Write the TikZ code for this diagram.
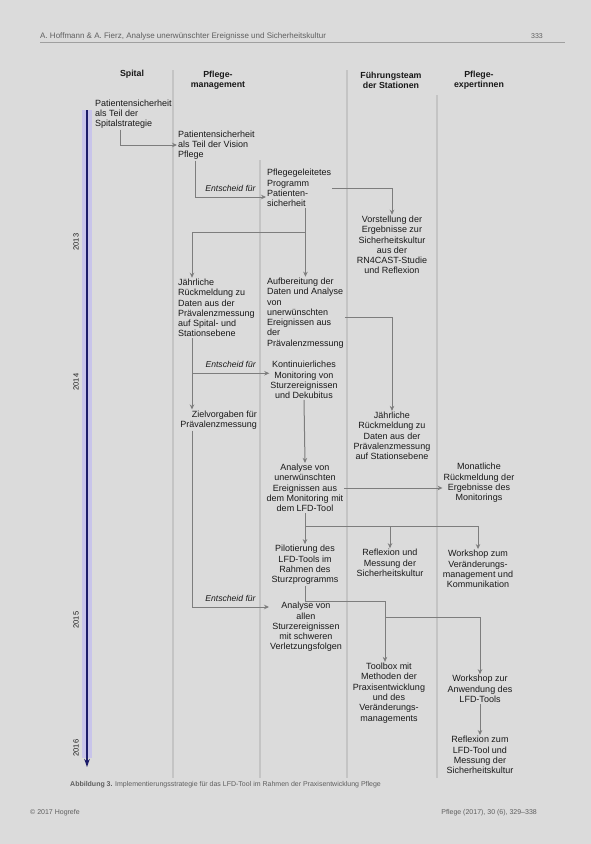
\documentclass[tikz,border=0pt]{standalone}
\usepackage{fontspec}
\setmainfont{Liberation Sans}
\usetikzlibrary{arrows.meta}

\begin{document}
\begin{tikzpicture}[x=1pt, y=-1pt,
    txt/.style={inner sep=1pt, font=\fontsize{9}{10.3}\selectfont, text=myInk},
    lbox/.style={txt, align=left, anchor=west},
    cbox/.style={txt, align=center},
    rbox/.style={txt, align=right, anchor=east},
    colhead/.style={txt, align=center, font=\fontsize{8.8}{10.2}\selectfont\bfseries},
    entscheid/.style={inner sep=1pt, font=\fontsize{8.6}{10}\selectfont\itshape, text=myInk},
    conn/.style={draw=myConn, line width=1pt, -{Stealth[length=5pt, width=4.5pt]}},
    colline/.style={draw=myColline, line width=1.3pt},
    yearlab/.style={inner sep=1pt, rotate=90, font=\fontsize{7.5}{9}\selectfont, text=myInk},
    pagetxt/.style={inner sep=0pt, font=\fontsize{7}{8}\selectfont, text=myPage}
]
    \definecolor{myPaper}{RGB}{219,219,219}
    \definecolor{myInk}{RGB}{25,25,25}
    \definecolor{myConn}{RGB}{125,125,125}
    \definecolor{myColline}{RGB}{196,196,196}
    \definecolor{myBand}{RGB}{200,196,234}
    \definecolor{myNavy}{RGB}{28,28,105}
    \definecolor{myPage}{RGB}{95,95,95}

    \fill[myPaper] (0,0) rectangle (591,844);
    \useasboundingbox (0,0) rectangle (591,844);

    % Kopf- und Fusszeile der Seite
    \draw[myPage!60, line width=0.5pt] (40,42) -- (565,42);
    \node[pagetxt, anchor=west, font=\fontsize{8}{9}\selectfont] (kopf) at (40,36) {A. Hoffmann \& A. Fierz, Analyse unerwünschter Ereignisse und Sicherheitskultur};
    \node[pagetxt, anchor=east] (seite) at (543,36) {333};
    \node[pagetxt, anchor=west] (legende) at (70,785) {\textbf{Abbildung 3.} Implementierungsstrategie für das LFD-Tool im Rahmen der Praxisentwicklung Pflege};
    \node[pagetxt, anchor=west] (verlag) at (30,813) {© 2017 Hogrefe};
    \node[pagetxt, anchor=east] (zeitschrift) at (537,813) {Pflege (2017), 30 (6), 329–338};

    % Spalten
    \draw[colline] (173,70) -- (173,778);
    \draw[colline] (260,160) -- (260,778);
    \draw[colline] (347,70) -- (347,778);
    \draw[colline] (437,95) -- (437,778);

    \node[colhead] (hspital) at (132,74) {Spital};
    \node[colhead] (hpflege) at (218,80) {Pflege-\\management};
    \node[colhead] (hfuehrung) at (391,80) {Führungsteam\\der Stationen};
    \node[colhead] (hexpert) at (479,80) {Pflege-\\expertinnen};

    % Zeitachse
    \coordinate (tstart) at (87,110);
    \coordinate (tend) at (87,767);
    \draw[myBand, line width=10pt] (tstart) -- (87,758);
    \draw[myNavy, line width=1.3pt, -{Stealth[length=8pt, width=5.5pt]}] (tstart) -- (tend);
    \node[yearlab] (j2013) at (76,242) {2013};
    \node[yearlab] (j2014) at (76,382) {2014};
    \node[yearlab] (j2015) at (76,620) {2015};
    \node[yearlab] (j2016) at (76,748) {2016};

    % Schritte
    \node[lbox] (patspital) at (94,114) {Patientensicherheit\\als Teil der\\Spitalstrategie};
    \node[lbox] (patvision) at (177,145) {Patientensicherheit\\als Teil der Vision\\Pflege};
    \node[lbox] (programm) at (266,188) {Pflegegeleitetes\\Programm\\Patienten-\\sicherheit};
    \node[cbox] (rncast) at (392,245) {Vorstellung der\\Ergebnisse zur\\Sicherheitskultur\\aus der\\RN4CAST-Studie\\und Reflexion};
    \node[lbox] (rueckspital) at (177,308) {Jährliche\\Rückmeldung zu\\Daten aus der\\Prävalenzmessung\\auf Spital- und\\Stationsebene};
    \node[lbox] (aufbereitung) at (266,313) {Aufbereitung der\\Daten und Analyse\\von\\unerwünschten\\Ereignissen aus\\der\\Prävalenzmessung};
    \node[cbox] (monitoring) at (304,380) {Kontinuierliches\\Monitoring von\\Sturzereignissen\\und Dekubitus};
    \node[rbox] (zielvorgaben) at (258,420) {Zielvorgaben für\\Prävalenzmessung};
    \node[cbox] (rueckstation) at (392,436) {Jährliche\\Rückmeldung zu\\Daten aus der\\Prävalenzmessung\\auf Stationsebene};
    \node[cbox] (analyselfd) at (305,488) {Analyse von\\unerwünschten\\Ereignissen aus\\dem Monitoring mit\\dem LFD-Tool};
    \node[cbox] (monatlich) at (479,483) {Monatliche\\Rückmeldung der\\Ergebnisse des\\Monitorings};
    \node[cbox] (pilot) at (305,565) {Pilotierung des\\LFD-Tools im\\Rahmen des\\Sturzprogramms};
    \node[cbox] (reflexion) at (390,563) {Reflexion und\\Messung der\\Sicherheitskultur};
    \node[cbox] (wsveraend) at (478,569) {Workshop zum\\Veränderungs-\\management und\\Kommunikation};
    \node[cbox] (analysesturz) at (306,627) {Analyse von\\allen\\Sturzereignissen\\mit schweren\\Verletzungsfolgen};
    \node[cbox] (toolbox) at (389,693) {Toolbox mit\\Methoden der\\Praxisentwicklung\\und des\\Veränderungs-\\managements};
    \node[cbox] (wslfd) at (480,689) {Workshop zur\\Anwendung des\\LFD-Tools};
    \node[cbox] (reflexionlfd) at (480,755) {Reflexion zum\\LFD-Tool und\\Messung der\\Sicherheitskultur};

    % Verbindungen
    \coordinate (vspital) at ([xshift=26pt]patspital.south west);
    \coordinate (vvision) at ([xshift=18pt]patvision.south west);
    \coordinate (vrueck) at ([xshift=15pt]rueckspital.south west);
    \path (programm.south -| aufbereitung.north) ++(0,25) coordinate (split1);
    \path (vrueck) ++(0,35) coordinate (split2);
    \path (analyselfd.south) ++(0,13) coordinate (split3);
    \path (pilot.south) ++(0,16) coordinate (split4);
    \path (split4 -| toolbox.north) ++(-4,16) coordinate (split5);

    \draw[conn] (vspital) |- (patvision.west);
    \draw[conn] (vvision) |- ([yshift=-9pt]programm.west)
        node[entscheid, pos=0.75, above=4pt] {Entscheid für};
    \draw[conn] (programm.east) -| (rncast.north);
    \draw[conn] (programm.south -| aufbereitung.north) -- (aufbereitung.north);
    \draw[conn] (split1) -| (vrueck |- rueckspital.north);
    \draw[conn] ([yshift=-4pt]aufbereitung.east) -| (rueckstation.north);
    \draw[conn] (vrueck) -- (vrueck |- zielvorgaben.north);
    \draw[conn] (split2) -- (split2 -| monitoring.west)
        node[entscheid, midway, above=4pt] {Entscheid für};
    \draw[conn] (monitoring.south) -- (analyselfd.north);
    \draw[conn] (analyselfd.east) -- (analyselfd.east -| monatlich.west);
    \draw[conn] (analyselfd.south) -- (pilot.north);
    \draw[conn] (split3) -| (reflexion.north);
    \draw[conn] (split3) -| (wsveraend.north);
    \draw[conn] (vrueck |- zielvorgaben.south) |- ([yshift=20pt]analysesturz.west)
        node[entscheid, pos=0.75, above=4pt] {Entscheid für};
    \draw[conn] (pilot.south) -- (split4) -| ([xshift=-4pt]toolbox.north);
    \draw[conn] (split5) -| (wslfd.north);
    \draw[conn] (wslfd.south) -- (reflexionlfd.north);
\end{tikzpicture}
\end{document}
